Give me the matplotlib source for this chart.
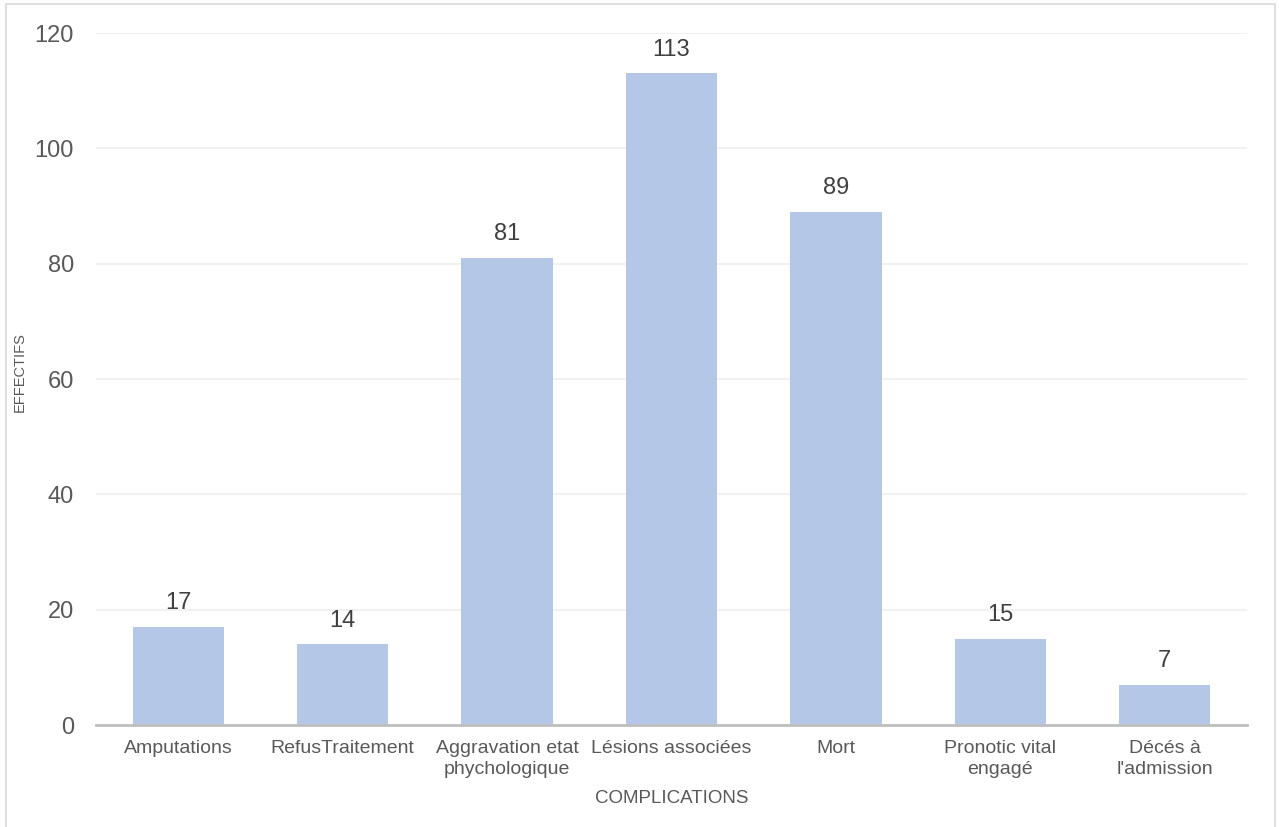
import matplotlib
matplotlib.use('Agg')
import matplotlib.pyplot as plt
import matplotlib.patches as mpatches
import numpy as np

plt.rcParams['font.family'] = ['Liberation Sans', 'DejaVu Sans']

# Chart data
categories = ['Amputations', 'RefusTraitement', 'Aggravation etat\nphychologique',
              'Lésions associées', 'Mort', 'Pronotic vital\nengagé', 'Décés à\nl\'admission']
effectifs = [17, 14, 81, 113, 89, 15, 7]
y_ticks = [0, 20, 40, 60, 80, 100, 120]

bar_color = '#B4C7E7'
text_color = '#595959'

fig = plt.figure(figsize=(12.79, 8.27), dpi=100)
ax = fig.add_axes([96 / 1279, 1 - 725 / 827, (1247 - 96) / 1279, (725 - 33) / 827])

x = np.arange(len(categories))
bars = ax.bar(x, effectifs, width=0.555, color=bar_color, zorder=2)

# value labels above bars
for xi, v in zip(x, effectifs):
    ax.annotate(str(v), (xi, v), xytext=(0, 9), textcoords='offset points',
                ha='center', va='bottom', fontsize=17, color='#404040')

ax.set_xlim(-0.5, len(categories) - 0.5)
ax.set_ylim(0, 120)
ax.set_yticks(y_ticks)
ax.set_xticks(x)
ax.set_xticklabels(categories, fontsize=14, color=text_color, linespacing=1.25)
ax.tick_params(axis='y', labelsize=17, colors=text_color, length=0, pad=16)
ax.tick_params(axis='x', length=0, pad=11)

ax.grid(True, axis='y', color='#EFEFEF', linewidth=1.2, zorder=0)
for side in ['top', 'right', 'left']:
    ax.spines[side].set_visible(False)
ax.spines['bottom'].set_color('#BFBFBF')
ax.spines['bottom'].set_linewidth(2)
ax.spines['bottom'].set_zorder(3)

ax.set_xlabel('COMPLICATIONS', fontsize=13.5, color=text_color, labelpad=9)
fig.text(20 / 1279, 1 - 372 / 827, 'EFFECTIFS', rotation=90, fontsize=10.5,
         color=text_color, ha='center', va='center')

# outer chart border
border = mpatches.Rectangle((6 / 1279, -0.1), (1275 - 6) / 1279, 1.1 - 4 / 827,
                            transform=fig.transFigure, fill=False,
                            edgecolor='#D9D9D9', linewidth=1.2)
fig.patches.append(border)

fig.savefig('out.png', dpi=100)
plt.close()
